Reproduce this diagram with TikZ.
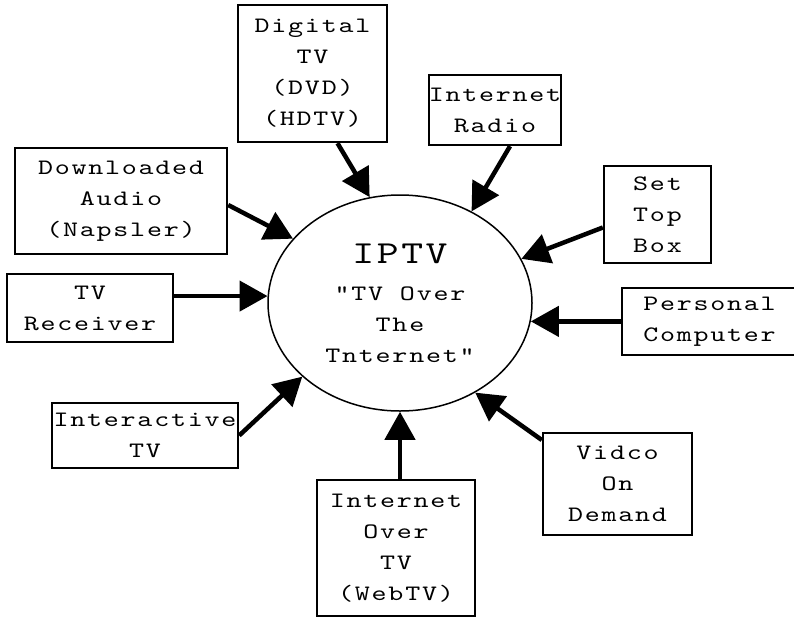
\documentclass[tikz,border=0pt]{standalone}
\usepackage{fontspec}
\newfontfamily\courf{lmmono10-regular.otf}[FakeStretch=1.3,LetterSpace=8]
\usetikzlibrary{arrows.meta,shapes.geometric,calc}
\tikzset{
  boxnode/.style={draw, line width=2.4pt, inner sep=0pt, align=center,
    font=\courf\fontsize{22}{31}\selectfont},
  arr/.style={line width=4.5pt, -{Triangle[length=28pt,width=30pt]}},
}
\begin{document}
\begin{tikzpicture}[x=1pt,y=-1pt]
\useasboundingbox (0,0) rectangle (794,618);
\fill[white] (0,0) rectangle (794,618);
% central ellipse
\node[ellipse, draw, line width=1.5pt, minimum width=264pt, minimum height=216pt, inner sep=0pt, align=center,
  font=\courf\fontsize{22}{31}\selectfont] (ell) at (400,303)
  {{\fontsize{32}{31}\selectfont IPTV}\\[6pt]\symbol{34}TV Over\\The\\Tnternet\symbol{34}};
% boxes
\node[boxnode, minimum width=149pt, minimum height=137pt] (dtv) at (312.5,73.5) {Digital\\TV\\(DVD)\\(HDTV)};
\node[boxnode, minimum width=120pt, minimum height=70pt] (irad) at (495,110) {Internet\\Radio};
\node[boxnode, minimum width=212pt, minimum height=106pt] (da) at (121,201) {Downloaded\\Audio\\(Napsler)};
\node[boxnode, minimum width=166pt, minimum height=68pt] (tvr) at (90,308) {TV\\Receiver};
\node[boxnode, minimum width=186pt, minimum height=65pt] (itv) at (145,435.5) {Interactive\\TV};
\node[boxnode, minimum width=158pt, minimum height=136pt] (iot) at (396,548) {Internet\\Over\\TV\\(WebTV)};
\node[boxnode, minimum width=149pt, minimum height=102pt] (vod) at (617.5,484) {Vidco\\On\\Demand};
\node[boxnode, minimum width=175pt, minimum height=67pt] (pc) at (709.5,321.5) {Personal\\Computer};
\node[boxnode, minimum width=107pt, minimum height=97pt] (stb) at (657.5,214.5) {Set\\Top\\Box};
% tips on the ellipse
\coordinate (tdtv) at (ell.106);
\coordinate (tirad) at (ell.52.6);
\coordinate (tda) at (ell.149);
\coordinate (ttvr) at (ell.177);
\coordinate (titv) at (ell.217.6);
\coordinate (tiot) at (ell.270);
\coordinate (tvod) at (ell.310);
\coordinate (tpc) at (ell.352.6);
\coordinate (tstb) at (ell.20.6);
% connectors
\draw[arr] ($(dtv.south)+(25,0)$) -- (tdtv);
\draw[arr] ($(irad.south)+(15,0)$) -- (tirad);
\draw[arr] ($(da.east)+(0,4)$) -- (tda);
\draw[arr] (tvr.east |- ttvr) -- (ttvr);
\draw[arr] (itv.east) -- (titv);
\draw[arr] (iot.north -| tiot) -- (tiot);
\draw[arr] ($(vod.west)+(0,-44)$) -- (tvod);
\draw[arr] (pc.west |- tpc) -- (tpc);
\draw[arr] ($(stb.west)+(0,13)$) -- (tstb);
\end{tikzpicture}
\end{document}
